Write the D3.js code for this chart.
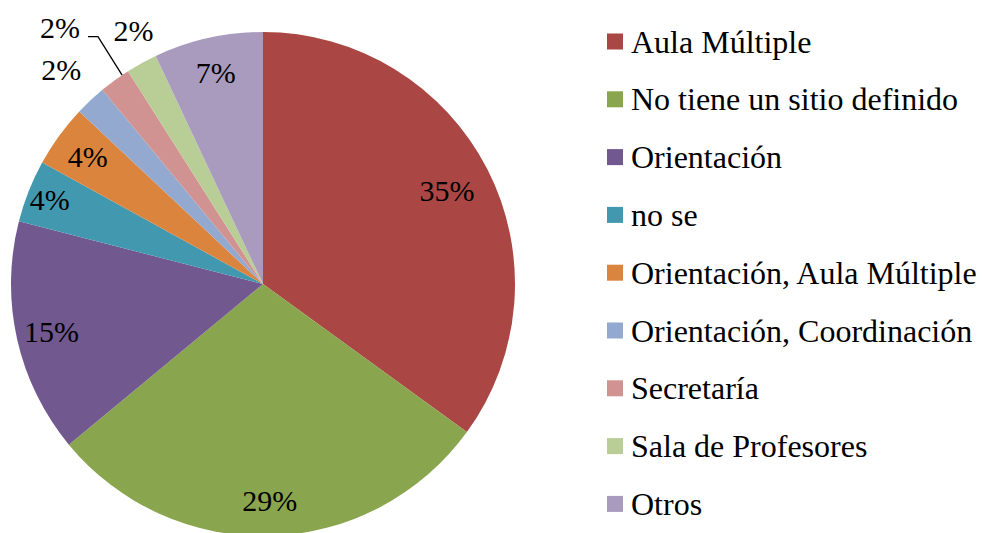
<!DOCTYPE html>
<html>
<head>
<meta charset="utf-8">
<script src="https://cdn.jsdelivr.net/npm/d3@7"></script>
<style>
  body { margin: 0; background: #fff; }
</style>
</head>
<body>
<div id="chart"></div>
<script>
// chart data
let categories = ["Aula Múltiple", "No tiene un sitio definido", "Orientación", "no se",
    "Orientación, Aula Múltiple", "Orientación, Coordinación", "Secretaría", "Sala de Profesores", "Otros"]
let values = [35, 29, 15, 4, 4, 2, 2, 2, 7]
let colors = ["#AA4643", "#89A54E", "#71588F", "#4198AF", "#DB843D", "#93A9CF", "#D19392", "#B9CD96", "#A99BBD"]

let width = 982
let height = 533
let cx = 263, cy = 284
let radius = 252
let font = "'Liberation Serif', 'Times New Roman', serif"

let svg = d3.select("#chart")
    .append("svg")
    .attr("width", width)
    .attr("height", height)
    .style("font-family", font)

let g = svg.append("g")
    .attr("transform", "translate(" + cx + "," + cy + ")")

let pie = d3.pie().sort(null).value(d => d.value)
let data_ready = pie(categories.map((c, i) => ({ key: c, value: values[i], color: colors[i] })))

let arc = d3.arc().innerRadius(0).outerRadius(radius)

g.selectAll("path.slice")
    .data(data_ready)
    .enter()
    .append("path")
    .attr("class", "slice")
    .attr("d", arc)
    .attr("fill", d => d.data.color)

// point at a given radius and angle (angle measured clockwise from top)
const polar = (r, a) => [r * Math.sin(a), -r * Math.cos(a)]

// small slices get their labels outside the pie
data_ready.forEach((d, i) => {
    let mid = (d.startAngle + d.endAngle) / 2
    let pos
    if (d.data.value > 2) {
        let k = i === 0 ? 0.82 : (i === 3 ? 0.91 : 0.86)
        pos = polar(radius * k, mid)
    } else if (i === 6) {
        // label with leader line
        let p0 = polar(radius, mid + 0.035)
        let p1 = polar(radius * 1.18, mid + 0.04)
        let p2 = [p1[0] - 10, p1[1]]
        g.append("polyline")
            .attr("points", [p0, p1, p2].map(p => p.join(",")).join(" "))
            .attr("fill", "none")
            .attr("stroke", "#000")
            .attr("stroke-width", 1.3)
        pos = [p2[0] - 28, p2[1] - 9]
    } else {
        pos = polar(radius * (i === 5 ? 1.17 : 1.13), mid + (i === 7 ? 0.03 : 0))
    }
    g.append("text")
        .attr("x", pos[0])
        .attr("y", pos[1])
        .attr("text-anchor", "middle")
        .attr("dominant-baseline", "central")
        .style("font-size", "30px")
        .text(d.data.value + "%")
})

// legend
let legend = svg.append("g")
    .selectAll("g")
    .data(categories)
    .enter()
    .append("g")
    .attr("transform", (d, i) => "translate(607," + (41.5 + i * 57.8) + ")")

legend.append("rect")
    .attr("x", 0)
    .attr("y", -8)
    .attr("width", 16)
    .attr("height", 16)
    .attr("fill", (d, i) => colors[i])

legend.append("text")
    .attr("x", 24)
    .attr("y", 11)
    .style("font-size", "32px")
    .text(d => d)
</script>
</body>
</html>
